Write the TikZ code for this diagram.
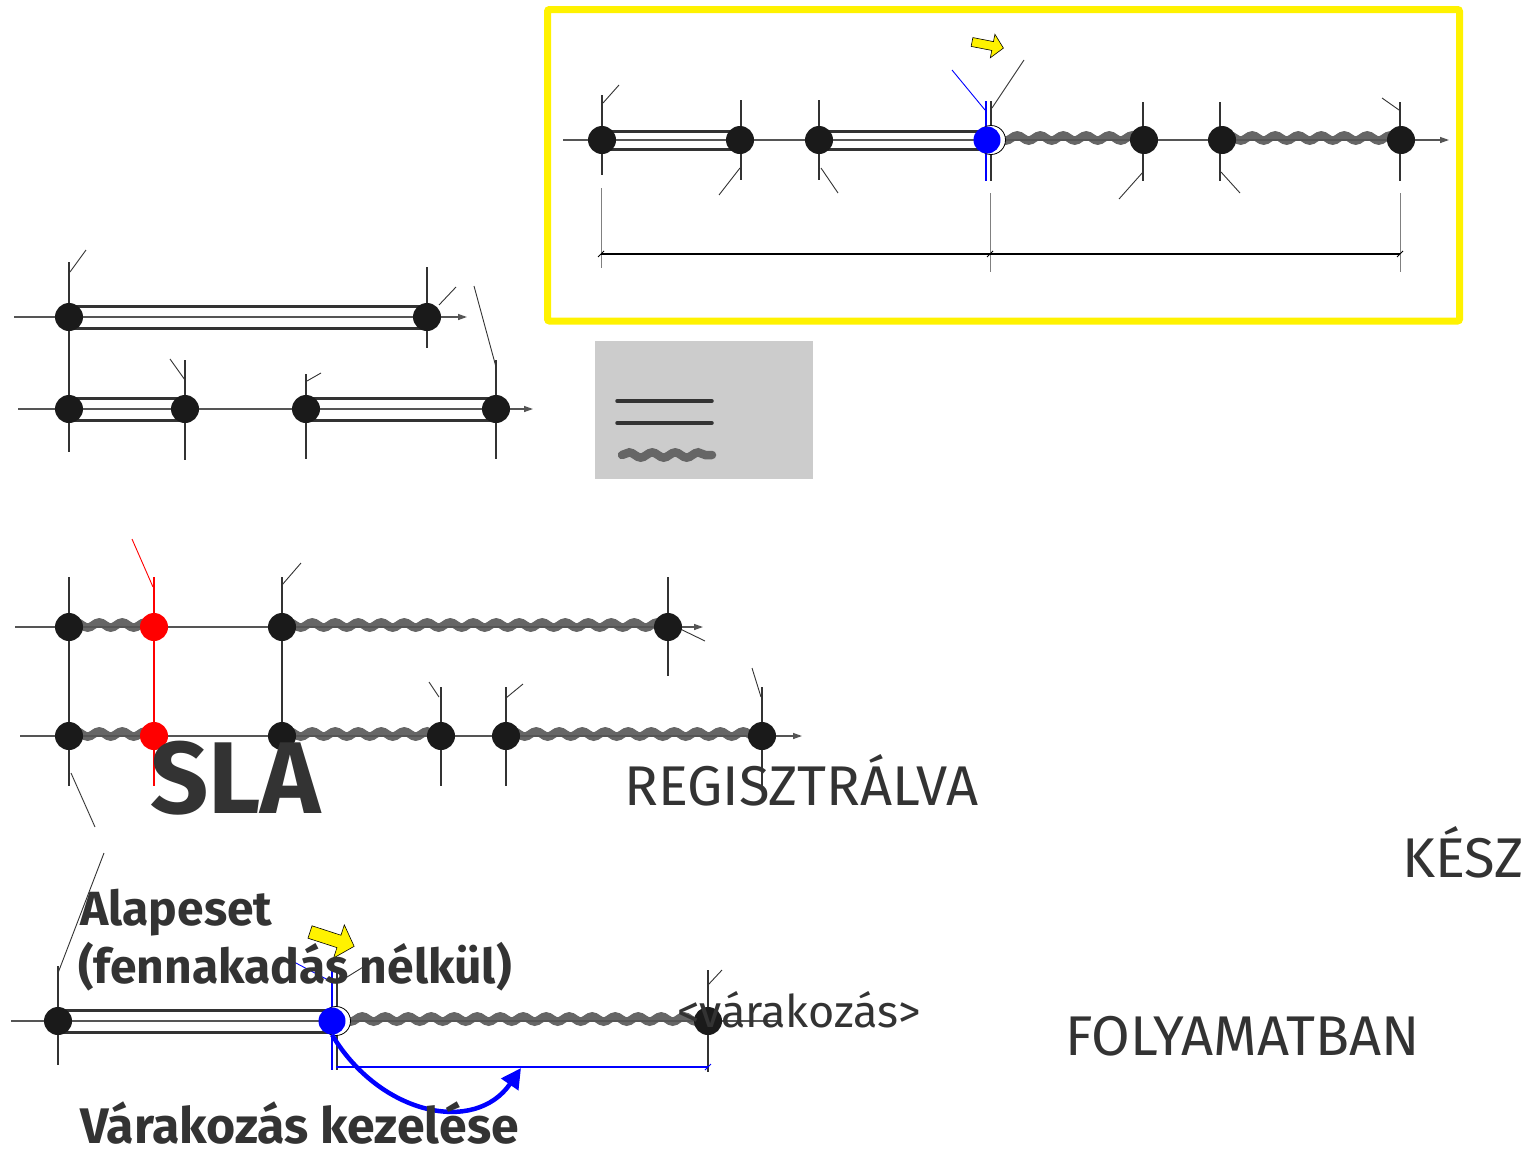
\documentclass[tikz,border=0pt]{standalone}
\usepackage{fontspec}
\setmainfont{Fira Sans}
\usetikzlibrary{arrows.meta,calc,decorations.pathmorphing}

\definecolor{ink}{HTML}{333333}
\definecolor{dotc}{HTML}{1A1A1A}
\definecolor{waitc}{HTML}{666666}
\definecolor{legendc}{HTML}{CCCCCC}
\definecolor{axisc}{HTML}{555555}

\tikzset{
  dot/.style={circle, fill=dotc, minimum size=28pt, inner sep=0pt},
  reddot/.style={dot, fill=red},
  bluedot/.style={dot, fill=blue, minimum size=27pt},
  ring/.style={circle, draw=black, fill=white, line width=0.8pt, minimum size=29pt, inner sep=0pt},
  axis/.style={draw=axisc, line width=1.3pt},
  axisarr/.style={axis, -{Triangle[length=9pt,width=6pt]}},
  tickln/.style={draw=ink, line width=2.5pt},
  leader/.style={draw=ink, line width=0.9pt},
  workbar/.style={draw=ink, line width=3pt, double=white, double distance=#1},
  workbar/.default=15pt,
  waitln/.style={draw=waitc, line width=8.5pt, line cap=round, decorate,
    decoration={snake, segment length=23pt, amplitude=2.6pt}},
  dimln/.style={draw=black, line width=1.2pt},
  extln/.style={draw=gray, line width=1pt},
  hint/.style={draw=black, fill=yellow, line width=0.6pt},
  statetxt/.style={text=ink, font=\fontsize{56}{60}\selectfont, inner sep=0pt, anchor=base west},
  headtxt/.style={text=ink, font=\bfseries\fontsize{48}{60}\selectfont, inner sep=0pt, anchor=base west},
}

\newcommand{\waitseg}[2]{%
  \draw[waitln] ($(#1)+(0,-2)$) -- ($(#2)+(0,-2)$);}
\newcommand{\hintarrow}[3]{%
  \draw[hint, shift={(#1)}, rotate=#2, scale=#3]
    (0,-4.5) -- (21,-4.5) -- (21,-12) -- (32,0) -- (21,12) -- (21,4.5) -- (0,4.5) -- cycle;}

\begin{document}
\begin{tikzpicture}[x=1pt, y=-1pt]
\useasboundingbox (0,0) rectangle (1528,1154);

% yellow frame
\draw[yellow, line width=7pt, rounded corners=2pt] (547.5,9.5) rectangle (1459.5,321);

\coordinate (t1) at (602,140);
\coordinate (t2) at (740,140);
\coordinate (t3) at (819,140);
\coordinate (t4) at (987,140);
\coordinate (t5) at (1144,140);
\coordinate (t6) at (1222,140);
\coordinate (t7) at (1401,140);

\draw[workbar] (t1) -- (t2);
\draw[workbar] (t3) -- (t4);
\waitseg{t4}{t5}
\waitseg{t6}{t7}
\draw[axisarr] (563,140) -- (1449,140);

\draw[tickln] (602,95) -- (602,175);
\draw[tickln] (741,100) -- (741,180);
\draw[tickln] (819,100) -- (819,180);
\draw[tickln, blue] (986,101) -- (986,181);
\draw[tickln] (991,101) -- (991,181);
\draw[tickln] (1143,102) -- (1143,181);
\draw[tickln] (1220,102) -- (1220,181);
\draw[tickln] (1400,102) -- (1400,181);

\draw[leader] (603,103) -- (619,85);
\draw[leader] (740,168) -- (719,195);
\draw[leader] (821,168) -- (838,193);
\draw[leader, draw=blue] (985,110) -- (952,70);
\draw[leader] (992,108) -- (1024,60);
\draw[leader] (1143,172) -- (1119,199);
\draw[leader] (1221,172) -- (1240,193);
\draw[leader] (1399,110) -- (1382,98);

\draw[extln] (601,188) -- (601,268);
\draw[extln] (990,193) -- (990,272);
\draw[extln] (1400,193) -- (1400,272);
\draw[dimln] (601,254) -- (1400,254);
\foreach \x in {601,990,1400}
  \draw[dimln, line width=0.8pt] (\x-3,257) -- (\x+3,251);

\hintarrow{972,42}{-11}{1}

% two parallel runs
\coordinate (r1) at (69,317);
\coordinate (r2) at (427,317);
\coordinate (s1) at (69,409);
\coordinate (s2) at (185,409);
\coordinate (s3) at (306,409);
\coordinate (s4) at (496,409);

\draw[workbar=19pt] (r1) -- (r2);
\draw[workbar=19pt] (s1) -- (s2);
\draw[workbar=19pt] (s3) -- (s4);
\draw[axisarr] (14,317) -- (467,317);
\draw[axisarr] (18,409) -- (533,409);

\draw[tickln] (69,262) -- (69,452);
\draw[tickln] (427,267) -- (427,348);
\draw[tickln] (185,360) -- (185,460);
\draw[tickln] (306,374) -- (306,459);
\draw[tickln] (496,360) -- (496,459);

\draw[leader] (70,272) -- (86,250);
\draw[leader] (439,305) -- (456,287);
\draw[leader] (496,367) -- (474,286);
\draw[leader] (185,380) -- (170,359);
\draw[leader] (307,381) -- (321,373);

% legend
\fill[legendc] (595,341) rectangle (813,479);
\draw[ink, line width=3.5pt, line cap=round] (617,401) -- (712,401);
\draw[ink, line width=3.5pt, line cap=round] (617,423) -- (712,423);
\coordinate (g1) at (622,457);
\coordinate (g2) at (712,457);
\waitseg{g1}{g2}

% SLA runs
\coordinate (m1) at (69,627);
\coordinate (m2) at (154,627);
\coordinate (m3) at (282,627);
\coordinate (m4) at (668,627);
\coordinate (n1) at (69,736);
\coordinate (n2) at (154,736);
\coordinate (n3) at (282,736);
\coordinate (n4) at (441,736);
\coordinate (n5) at (506,736);
\coordinate (n6) at (762,736);

\waitseg{m1}{m2}
\waitseg{m3}{m4}
\waitseg{n1}{n2}
\waitseg{n3}{n4}
\waitseg{n5}{n6}
\draw[axisarr] (15,627) -- (703,627);
\draw[axisarr] (20,736) -- (802,736);

\draw[tickln] (69,577) -- (69,786);
\draw[tickln, red, line width=2pt] (154,577) -- (154,786);
\draw[tickln] (282,577) -- (282,773);
\draw[tickln] (668,577) -- (668,676);
\draw[tickln] (441,687) -- (441,786);
\draw[tickln] (506,687) -- (506,786);
\draw[tickln] (762,687) -- (762,786);

\draw[leader, draw=red] (153,587) -- (132,539);
\draw[leader] (282,585) -- (301,563);
\draw[leader] (672,625) -- (705,641);
\draw[leader] (439,697) -- (429,682);
\draw[leader] (506,698) -- (523,684);
\draw[leader] (761,697) -- (752,668);
\draw[leader] (71,773) -- (95,827);

% waiting run
\coordinate (b1) at (58,1021);
\coordinate (b2) at (332,1021);
\coordinate (b3) at (708,1021);
\coordinate (w9) at (521,1068);

\draw[workbar=19pt] (b1) -- (b2);
\waitseg{b2}{b3}
\draw[axis] (11,1021) -- (780,1021);

\draw[tickln] (58,966) -- (58,1065);
\draw[tickln, blue, line width=2pt] (332,970) -- (332,1070);
\draw[tickln, line width=2pt] (337,972) -- (337,1070);
\draw[tickln, line width=2pt] (708,970) -- (708,1072);

\draw[leader] (58,973) -- (104,853);
\draw[leader, draw=blue] (332,982) -- (294,962);
\draw[leader] (339,982) -- (368,964);
\draw[leader] (708,985) -- (722,970);

\draw[blue, line width=1.2pt] (336,1067) -- (708,1067);
\draw[blue, line width=0.8pt] (705,1070) -- (711,1064);

\hintarrow{310,932}{-18}{1.45}

% dots
\foreach \p in {t1,t2,t3,t5,t6,t7,r1,r2,s1,s2,s3,s4,m1,m3,m4,n1,n3,n4,n5,n6,b1,b3}
  \node[dot] (d\p) at (\p) {};
\foreach \p in {m2,n2}
  \node[reddot] (d\p) at (\p) {};
\foreach \p in {t4,b2} {
  \node[ring] (o\p) at ($(\p)+(4,0)$) {};
  \node[bluedot] (d\p) at (\p) {};
}

\draw[blue, line width=4.5pt, -{Triangle[length=20pt,width=20pt]}]
  (db2.south) .. controls (380,1115) and (475,1135) .. (w9);

% texts
\node[headtxt, font=\bfseries\fontsize{102}{110}\selectfont] (sla) at (150,813) {SLA};
\node[statetxt] (reg) at (624,805) {REGISZTRÁLVA};
\node[statetxt] (kesz) at (1402,877) {KÉSZ};
\node[statetxt] (foly) at (1065,1055) {FOLYAMATBAN};
\node[statetxt, font=\fontsize{45}{50}\selectfont] (var) at (677,1027) {<várakozás>};
\node[headtxt] (alap) at (80,925) {Alapeset};
\node[headtxt] (fenn) at (78,983) {(fennakadás nélkül)};
\node[headtxt, font=\bfseries\fontsize{50}{60}\selectfont] (kez) at (80,1143) {Várakozás kezelése};

\end{tikzpicture}
\end{document}
